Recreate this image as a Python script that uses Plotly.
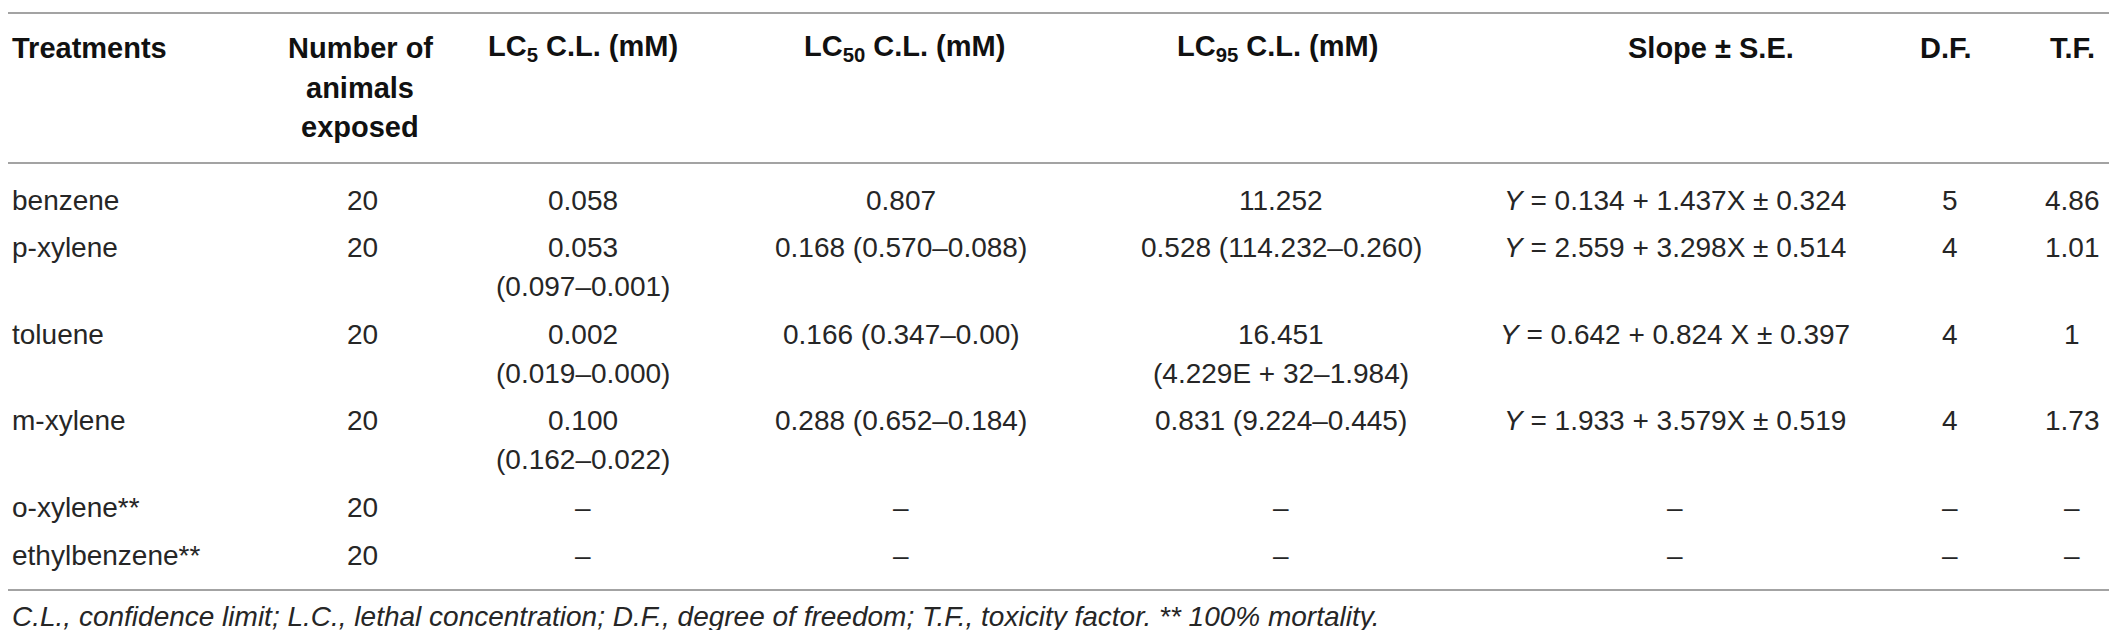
import plotly.graph_objects as go

# -- Datos de la tabla --------------------------------------------------------
treatments = ["benzene", "p-xylene", "toluene", "m-xylene", "o-xylene**", "ethylbenzene**"]
animals = ["20", "20", "20", "20", "20", "20"]
lc5 = ["0.058", "0.053\n(0.097–0.001)", "0.002\n(0.019–0.000)", "0.100\n(0.162–0.022)", "–", "–"]
lc50 = ["0.807", "0.168 (0.570–0.088)", "0.166 (0.347–0.00)", "0.288 (0.652–0.184)", "–", "–"]
lc95 = ["11.252", "0.528 (114.232–0.260)", "16.451\n(4.229E + 32–1.984)", "0.831 (9.224–0.445)", "–", "–"]
slope = ["<i>Y</i> = 0.134 + 1.437X ± 0.324", "<i>Y</i> = 2.559 + 3.298X ± 0.514",
         "<i>Y</i> = 0.642 + 0.824 X ± 0.397", "<i>Y</i> = 1.933 + 3.579X ± 0.519", "–", "–"]
df = ["5", "4", "4", "4", "–", "–"]
tf = ["4.86", "1.01", "1", "1.73", "–", "–"]

headers = ["Treatments", "Number of\nanimals\nexposed", "LC<sub>5</sub> C.L. (mM)",
           "LC<sub>50</sub> C.L. (mM)", "LC<sub>95</sub> C.L. (mM)", "Slope ± S.E.", "D.F.", "T.F."]
footnote = ("<i>C.L., confidence limit; L.C., lethal concentration; D.F., degree of freedom; "
            "T.F., toxicity factor. ** 100% mortality.</i>")

columns = [treatments, animals, lc5, lc50, lc95, slope, df, tf]

# -- Geometría (px) -----------------------------------------------------------
W, H = 2117, 630
head_x = [2, 352, 575, 896, 1269, 1703, 1938, 2064]
col_x = [2, 354, 575, 893, 1273, 1667, 1942, 2064]
FONT = "Liberation Sans, Arial, sans-serif"
SIZE = 28
TXT = "#262626"
RULE = "#a3a3a3"
LINE_H = 38.6
ROW_GAP = 9.3
HEAD_Y0 = 40
BODY_Y0 = 192

fig = go.Figure()
fig.add_trace(go.Scatter(x=[0, W], y=[0, H], mode="markers", marker=dict(opacity=0),
                         hoverinfo="skip", showlegend=False))

ann = []

# Encabezado
for j, h in enumerate(headers):
    for k, linea in enumerate(h.split("\n")):
        ann.append(dict(x=head_x[j], y=HEAD_Y0 + k * 39.5, text=f"<b>{linea}</b>",
                        xanchor="left" if j == 0 else "center", yanchor="middle",
                        showarrow=False,
                        font=dict(family=FONT, size=SIZE + 1, color="#111111")))

# Cuerpo
y = BODY_Y0
for i in range(len(treatments)):
    n_lineas = max(len(c[i].split("\n")) for c in columns)
    for j, col in enumerate(columns):
        for k, linea in enumerate(col[i].split("\n")):
            ann.append(dict(x=col_x[j], y=y + k * LINE_H, text=linea,
                            xanchor="left" if j == 0 else "center", yanchor="middle",
                            showarrow=False,
                            font=dict(family=FONT, size=SIZE, color=TXT)))
    y += n_lineas * LINE_H + ROW_GAP

ann.append(dict(x=2, y=608, text=footnote, xanchor="left", yanchor="middle",
                showarrow=False, font=dict(family=FONT, size=SIZE, color=TXT)))

for i_y in [5, 155, 582]:
    fig.add_shape(type="line", x0=0, x1=W, y0=i_y, y1=i_y, xref="x", yref="y",
                  line=dict(color=RULE, width=2))

fig.update_layout(
    width=W, height=H,
    margin=dict(l=0, r=0, t=0, b=0),
    paper_bgcolor="white", plot_bgcolor="white",
    xaxis=dict(range=[0, W], visible=False, fixedrange=True),
    yaxis=dict(range=[H, 0], visible=False, fixedrange=True),
    annotations=ann,
    showlegend=False,
)

fig.write_html("out.html")
